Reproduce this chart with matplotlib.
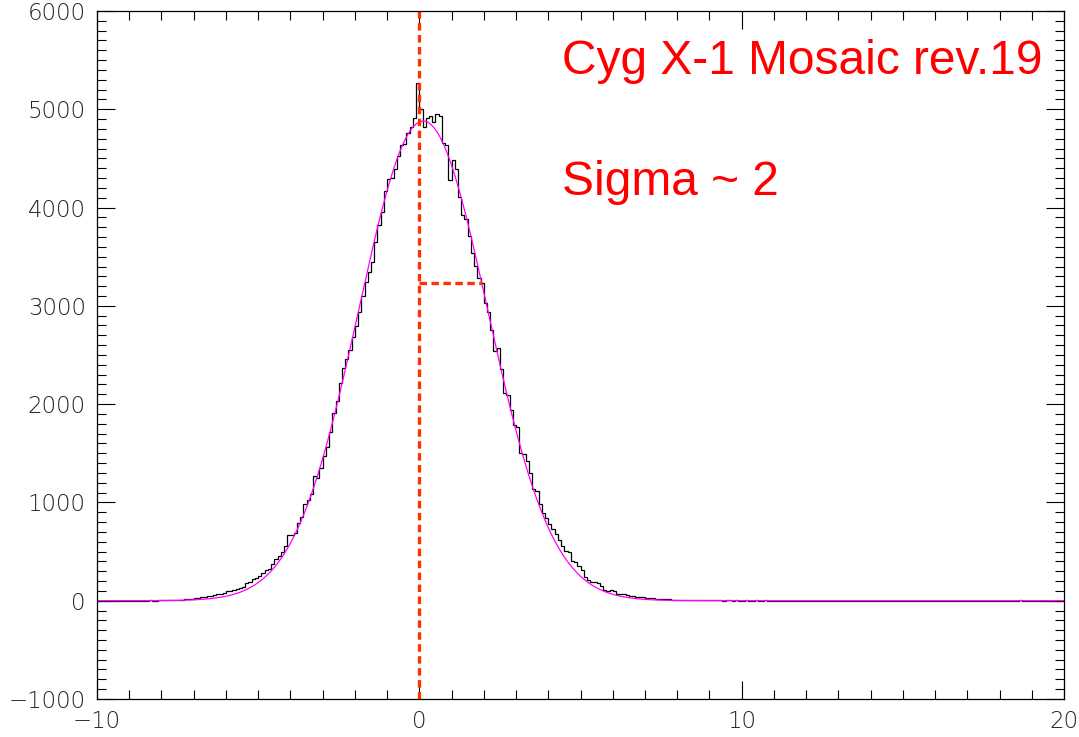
import numpy as np
import matplotlib
matplotlib.use("Agg")
import matplotlib.pyplot as plt

# histogram counts, 0.1-wide bins starting at x = -10
bin_start = -10.0
bin_width = 0.1
counts = [
    0, 1, 0, 0, 1, 0, 0, 1, 0, 1,                                  # -10
    1, 0, 1, 1, 0, 1, 2, 1, 1, 2,                                  # -9
    2, 3, 3, 4, 5, 7, 9, 13, 18, 22,                               # -8
    25, 30, 34, 36, 45, 48, 55, 65, 70, 82,                        # -7
    95, 96, 105, 119, 125, 143, 175, 194, 218, 230,                # -6
    255, 280, 313, 323, 370, 424, 455, 499, 560, 669,              # -5
    669, 686, 794, 855, 981, 1025, 1086, 1272, 1252, 1347,         # -4
    1476, 1567, 1713, 1906, 2030, 2211, 2364, 2456, 2547, 2680,    # -3
    2798, 2941, 3103, 3239, 3341, 3443, 3653, 3822, 3958, 4172,    # -2
    4287, 4300, 4389, 4524, 4636, 4650, 4755, 4823, 4914, 5264,    # -1
    5000, 4823, 4914, 4931, 4874, 4948, 4930, 4653, 4636, 4280,    # 0
    4484, 4389, 4111, 3924, 3883, 3710, 3534, 3409, 3280, 3229,    # 1
    3026, 2934, 2754, 2541, 2575, 2357, 2110, 2095, 1940, 1788,    # 2
    1770, 1506, 1490, 1418, 1296, 1138, 1115, 980, 890, 840,       # 3
    780, 725, 680, 620, 560, 510, 495, 400, 392, 350,              # 4
    313, 245, 215, 190, 190, 180, 150, 105, 102, 108,              # 5
    95, 70, 68, 65, 60, 48, 45, 35, 34, 33,                        # 6
    31, 30, 25, 18, 17, 17, 15, 14, 8, 7,                          # 7
    7, 6, 5, 6, 4, 5, 3, 4, 3, 2,                                  # 8
    3, 2, 2, 3, 1, 2, 2, 1, 2, 1,                                  # 9
    1, 2, 1, 1, 6, 1, 1, 2, 1, 1,                                  # 10
    1, 0, 1, 0, 0, 1, 0, 0, 1, 0,                                  # 11
    0, 1, 0, 0, 0, 1, 0, 0, 0, 1,                                  # 12
    0, 0, 1, 0, 0, 0, 0, 1, 0, 0,                                  # 13
    0, 1, 0, 0, 0, 0, 1, 0, 0, 0,                                  # 14
    0, 0, 0, 1, 0, 0, 0, 0, 0, 1,                                  # 15
    0, 0, 0, 0, 1, 0, 0, 0, 0, 0,                                  # 16
    1, 0, 0, 0, 0, 0, 1, 0, 0, 0,                                  # 17
    0, 0, 0, 1, 0, 0, 8, 1, 0, 0,                                  # 18
    0, 0, 1, 0, 0, 0, 0, 1, 0, 0,                                  # 19
]

# gaussian fit parameters
fit_amp = 4880.0
fit_mean = 0.12
fit_sigma = 2.0

# marker lines
vline_x = 0.0
hline_y = 3230.0
hline_x = [0.0, 1.95]

title_text = "Cyg X-1 Mosaic rev.19"
sigma_text = "Sigma ~ 2"

red = "#ff3300"

plt.rcParams['lines.scale_dashes'] = False

fig = plt.figure(figsize=(10.79, 7.37), dpi=100)
ax = fig.add_axes([0.0899, 0.0516, 0.8962, 0.9335])

counts = np.asarray(counts, dtype=float)
edges = bin_start + bin_width * np.arange(len(counts) + 1)
ax.stairs(counts, edges, color='black', linewidth=0.9)

xf = np.linspace(-10, 20, 1500)
ax.plot(xf, fit_amp * np.exp(-0.5 * ((xf - fit_mean) / fit_sigma) ** 2),
        color='#ff00ff', linewidth=0.9)

ax.axvline(vline_x, color=red, linewidth=2.4, dashes=(5.4, 3.2))
ax.plot(hline_x, [hline_y, hline_y], color=red, linewidth=2.4, dashes=(5.4, 3.2))

ax.text(0.481, 0.926, title_text, transform=ax.transAxes, color='red',
        fontsize=34.5, family='Liberation Sans', va='center', ha='left')
ax.text(0.481, 0.751, sigma_text, transform=ax.transAxes, color='red',
        fontsize=34.5, family='Liberation Sans', va='center', ha='left')

ax.set_xlim(-10, 20)
ax.set_ylim(-1000, 6000)
ax.set_xticks([-10, 0, 10, 20])
ax.set_xticks(np.arange(-10, 20.5, 1), minor=True)
ax.set_yticks(np.arange(-1000, 6001, 1000))
ax.set_yticks(np.arange(-1000, 6001, 100), minor=True)

ax.tick_params(which='both', direction='in', top=True, right=True, width=0.8,
               labelsize=16.5)
ax.tick_params(which='major', length=13, pad=8)
ax.tick_params(which='minor', length=6.5)
for lbl in ax.get_xticklabels() + ax.get_yticklabels():
    lbl.set_fontweight('light')
    lbl.set_color('#222222')
for spine in ax.spines.values():
    spine.set_linewidth(0.9)

fig.savefig("out.png", dpi=100)
